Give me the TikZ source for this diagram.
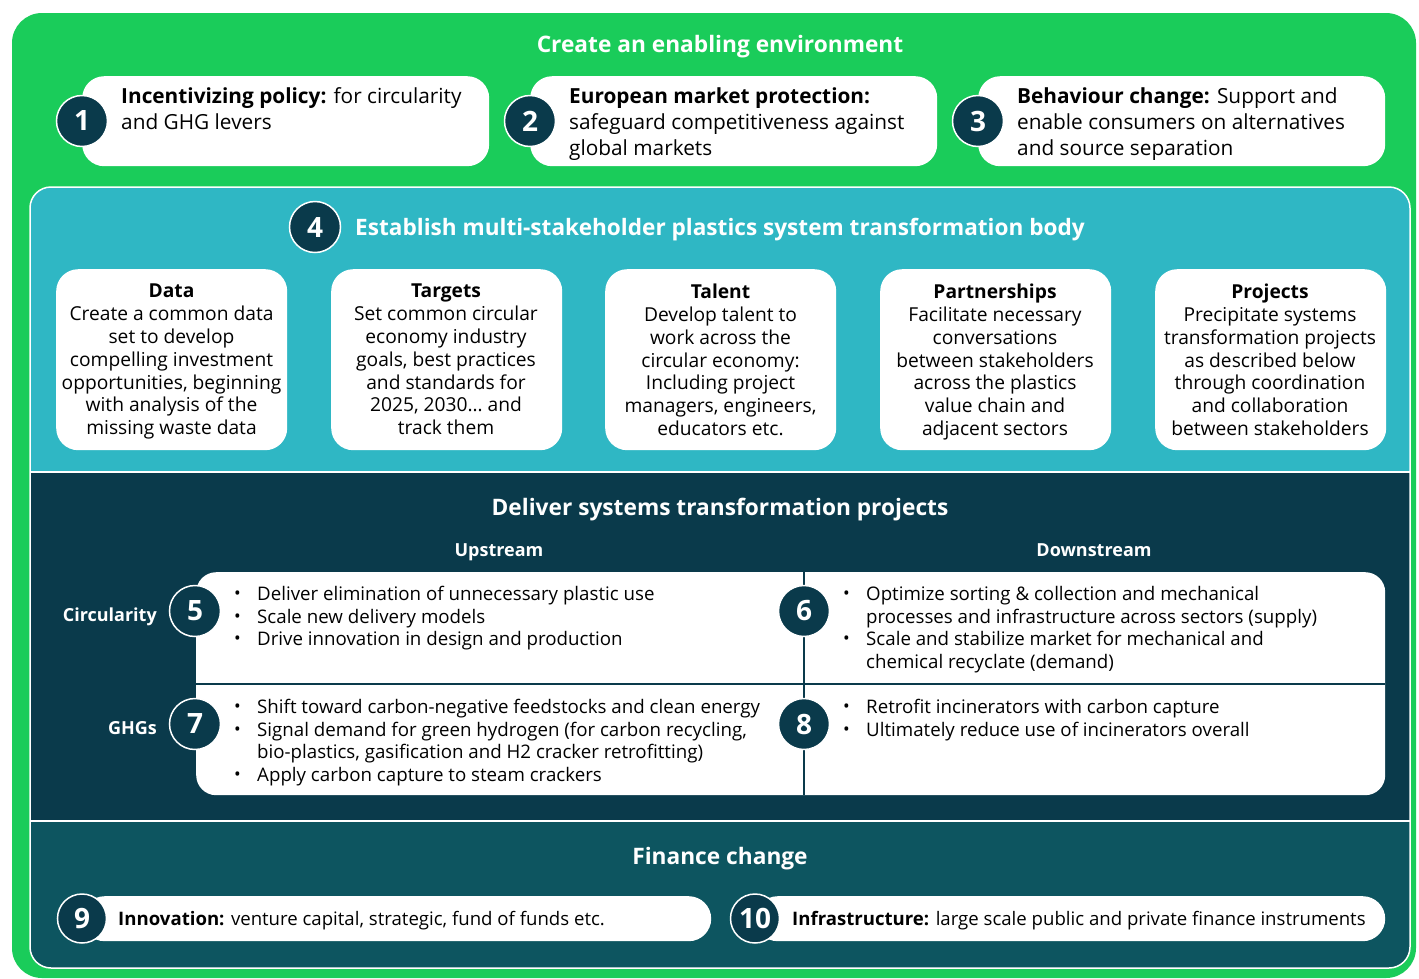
\documentclass[tikz,border=0pt]{standalone}
\usepackage{fontspec}
\usepackage{graphicx}
\setmainfont{Open Sans}
\definecolor{cgreen}{RGB}{26,204,90}
\definecolor{cteal}{RGB}{47,183,196}
\definecolor{cnavy}{RGB}{10,58,75}
\definecolor{cfin}{RGB}{13,85,96}
\newcommand{\bl}{\makebox[23pt][l]{\raisebox{0.1ex}{\scalebox{0.95}{\textbullet}}}}
\newcommand{\ind}{\hspace*{23pt}}
\begin{document}
\begin{tikzpicture}[x=1pt,y=-1pt,
  numc/.style={circle,fill=cnavy,draw=white,line width=1.5pt,minimum size=51pt,inner sep=0pt,text=white,font=\bfseries\fontsize{28}{28}\selectfont},
  wbox/.style={fill=white,rounded corners=22pt,inner sep=0pt,anchor=north west},
  toptext/.style={anchor=north west,align=left,inner sep=0pt,text=black,font=\fontsize{20.8}{26}\selectfont},
  cardtext/.style={anchor=north,align=center,inner sep=0pt,text=black,font=\fontsize{19.2}{22.8}\selectfont},
  bultext/.style={anchor=north west,align=left,inner sep=0pt,text=black,font=\fontsize{18.7}{22.7}\selectfont},
  wtitle/.style={text=white,inner sep=0pt,anchor=base,font=\bfseries\fontsize{22.7}{27}\selectfont},
  wsub/.style={text=white,inner sep=0pt,anchor=base,font=\bfseries\fontsize{18}{22}\selectfont},
  fintext/.style={anchor=base west,inner sep=0pt,text=black,font=\fontsize{18.6}{22}\selectfont}]
\useasboundingbox (0,0) rectangle (1419,978);
\fill[white] (0,0) rectangle (1419,978);
% green frame
\fill[cgreen,rounded corners=30pt] (12,13) rectangle (1416,978);
% panels
\fill[cteal] (30,472) [rounded corners=22pt] -- (30,187) -- (1410,187) [sharp corners] -- (1410,472) -- cycle;
\fill[cnavy] (30,472) rectangle (1410,821);
\fill[cfin] (30,821) [rounded corners=20pt] -- (30,968) -- (1410,968) [sharp corners] -- (1410,821) -- cycle;
\draw[white,line width=1.5pt,rounded corners=21pt] (30,187) rectangle (1410,968);
\draw[white,line width=1.5pt] (30,472) -- (1410,472);
\draw[white,line width=1.5pt] (30,821) -- (1410,821);

% ---- enabling environment
\node[wtitle] (ttop) at (720,52) {Create an enabling environment};
\node[wbox,minimum width=407pt,minimum height=90pt] (b1) at (82,76) {};
\node[wbox,minimum width=407pt,minimum height=90pt] (b2) at (530,76) {};
\node[wbox,minimum width=407pt,minimum height=90pt] (b3) at (978,76) {};
\node[numc] (c1) at (82,121) {1};
\node[numc] (c2) at (530,121) {2};
\node[numc] (c3) at (978,121) {3};
\node[toptext] (tx1) at (121,87) {\textbf{Incentivizing policy:} for circularity\\and GHG levers};
\node[toptext] (tx2) at (569,87) {\textbf{European market protection:}\\safeguard competitiveness against\\global markets};
\node[toptext] (tx3) at (1017,87) {\textbf{Behaviour change:} Support and\\enable consumers on alternatives\\and source separation};

% ---- transformation body
\node[numc] (c4) at (315,227) {4};
\node[wtitle,anchor=base west,font=\bfseries\fontsize{22.6}{28}\selectfont] (t4) at (355,235) {Establish multi-stakeholder plastics system transformation body};
\foreach \n/\x in {d1/56,d2/331,d3/605,d4/880,d5/1155}{
  \node[wbox,minimum width=231pt,minimum height=181pt] (\n) at (\x,269) {};
}
\node[cardtext] (dt1) at (171.5,284) {\textbf{Data}\\Create a common data\\set to develop\\compelling investment\\opportunities, beginning\\with analysis of the\\missing waste data};
\node[cardtext] (dt2) at (446,284) {\textbf{Targets}\\Set common circular\\economy industry\\goals, best practices\\and standards for\\2025, 2030\ldots\ and\\track them};
\node[cardtext] (dt3) at (720.5,284) {\textbf{Talent}\\Develop talent to\\work across the\\circular economy:\\Including project\\managers, engineers,\\educators etc.};
\node[cardtext] (dt4) at (995,284) {\textbf{Partnerships}\\Facilitate necessary\\conversations\\between stakeholders\\across the plastics\\value chain and\\adjacent sectors};
\node[cardtext] (dt5) at (1270,284) {\textbf{Projects}\\Precipitate systems\\transformation projects\\as described below\\through coordination\\and collaboration\\between stakeholders};

% ---- deliver projects
\node[wtitle] (tdel) at (720,515) {Deliver systems transformation projects};
\node[wsub] (up) at (499,556.5) {Upstream};
\node[wsub] (down) at (1094,556.5) {Downstream};
\node[fill=white,rounded corners=20pt,inner sep=0pt,minimum width=1189pt,minimum height=223pt,anchor=north west] (tbl) at (196,572) {};
\coordinate (hl) at (196,684);
\coordinate (hr) at (1385,684);
\coordinate (vt) at (804,572);
\coordinate (vb) at (804,795);
\draw[cnavy,line width=1.3pt] (hl) -- (hr);
\draw[cnavy,line width=1.3pt] (vt) -- (vb);
\node[wsub,anchor=base east] (lcirc) at (157,621.5) {Circularity};
\node[wsub,anchor=base east] (lghg) at (157,734.5) {GHGs};
\node[numc] (c5) at (195,611) {5};
\node[numc] (c7) at (195,724) {7};
\node[numc] (c6) at (804,611) {6};
\node[numc] (c8) at (804,724) {8};
\node[bultext] (u1) at (234,586) {\bl Deliver elimination of unnecessary plastic use\\\bl Scale new delivery models\\\bl Drive innovation in design and production};
\node[bultext] (u2) at (234,699) {\bl Shift toward carbon-negative feedstocks and clean energy\\\bl Signal demand for green hydrogen (for carbon recycling,\\\ind bio-plastics, gasification and H2 cracker retrofitting)\\\bl Apply carbon capture to steam crackers};
\node[bultext] (w1) at (843,586) {\bl Optimize sorting \& collection and mechanical\\\ind processes and infrastructure across sectors (supply)\\\bl Scale and stabilize market for mechanical and\\\ind chemical recyclate (demand)};
\node[bultext] (w2) at (843,699) {\bl Retrofit incinerators with carbon capture\\\bl Ultimately reduce use of incinerators overall};

% ---- finance
\node[wtitle] (tfin) at (720,864) {Finance change};
\node[fill=white,rounded corners=22.5pt,inner sep=0pt,minimum width=629pt,minimum height=45pt,anchor=north west] (p9) at (82,896) {};
\node[fill=white,rounded corners=22.5pt,inner sep=0pt,minimum width=630pt,minimum height=45pt,anchor=north west] (p10) at (755,896) {};
\node[numc,minimum size=49pt] (c9) at (82,918.5) {9};
\node[numc,minimum size=49pt] (c10) at (755,918.5) {10};
\node[fintext] (f9) at (118,925.5) {\textbf{Innovation:} venture capital, strategic, fund of funds etc.};
\node[fintext] (f10) at (792,925.5) {\textbf{Infrastructure:} large scale public and private finance instruments};
\end{tikzpicture}
\end{document}
